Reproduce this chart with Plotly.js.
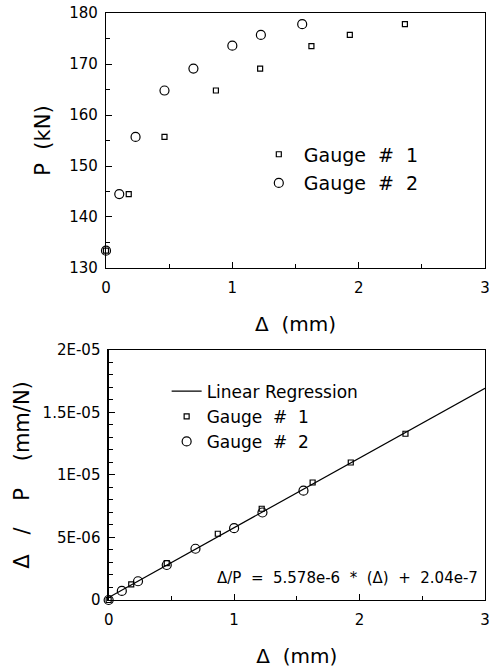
<!DOCTYPE html>
<html><head><meta charset="utf-8">
<script src="https://cdn.plot.ly/plotly-3.0.1.min.js"></script>
<style>html,body{margin:0;padding:0;background:#fff}#plot{width:490px;height:670px}</style>
</head><body><div id="plot"></div>
<script>
// Top panel: load P (kN) vs deflection Δ (mm)
const g1Delta = [0, 0.18, 0.463, 0.87, 1.22, 1.626, 1.93, 2.366];
const g1P     = [133.4, 144.5, 155.7, 164.8, 169.1, 173.5, 175.7, 177.8];
const g2Delta = [0, 0.105, 0.234, 0.463, 0.692, 1.0, 1.226, 1.553];
const g2P     = [133.4, 144.5, 155.7, 164.8, 169.1, 173.6, 175.7, 177.8];
// Bottom panel: compliance Δ/P (mm/N) vs Δ (mm)
const g1Comp  = [0, 1.25e-6, 2.95e-6, 5.3e-6, 7.3e-6, 9.4e-6, 1.1e-5, 1.33e-5];
const g2Comp  = [0, 7.3e-7, 1.5e-6, 2.8e-6, 4.1e-6, 5.75e-6, 7.0e-6, 8.75e-6];
const regDelta = [0, 3];
const regComp  = [2.04e-7, 1.6938e-5];
const compTickVals = [0, 5e-6, 1e-5, 1.5e-5, 2e-5];
const compTickText = ['0', '5E-06', '1E-05', '1.5E-05', '2E-05'];
const pTickVals = [130, 140, 150, 160, 170, 180];
const deltaTickVals = [0, 1, 2, 3];
const nb = '\u00A0';
const sp = n => nb.repeat(n);
const g1Name = 'Gauge' + sp(2) + '#' + sp(2) + '1';
const g2Name = 'Gauge' + sp(2) + '#' + sp(2) + '2';

const F = 'DejaVu Sans, Verdana, sans-serif';
const sq = {symbol: 'square-open', size: 5, color: '#000', line: {width: 1.2, color: '#000'}};
const ci = {symbol: 'circle-open', size: 9, color: '#000', line: {width: 1.2, color: '#000'}};

const traces = [
  {x: g1Delta, y: g1P, mode: 'markers', marker: sq, name: g1Name, xaxis: 'x', yaxis: 'y', legend: 'legend', legendgroup: 'a', cliponaxis: false},
  {x: g2Delta, y: g2P, mode: 'markers', marker: ci, name: g2Name, xaxis: 'x', yaxis: 'y', legend: 'legend', legendgroup: 'b', cliponaxis: false},
  {x: regDelta, y: regComp, mode: 'lines', line: {color: '#000', width: 1.2}, name: 'Linear' + nb + 'Regression', xaxis: 'x2', yaxis: 'y2', legend: 'legend2', legendgroup: 'c'},
  {x: g1Delta, y: g1Comp, mode: 'markers', marker: sq, name: g1Name, xaxis: 'x2', yaxis: 'y2', legend: 'legend2', legendgroup: 'd', cliponaxis: false},
  {x: g2Delta, y: g2Comp, mode: 'markers', marker: ci, name: g2Name, xaxis: 'x2', yaxis: 'y2', legend: 'legend2', legendgroup: 'e', cliponaxis: false}
];

const axBase = {
  showline: true, linecolor: '#000', linewidth: 1.2, mirror: true,
  ticks: 'inside', ticklen: 6, tickwidth: 1, tickcolor: '#000',
  showgrid: false, zeroline: false,
  tickfont: {family: F, size: 15, color: '#000'}
};

const layout = {
  width: 490, height: 670,
  margin: {l: 106, r: 5, t: 13, b: 70},
  paper_bgcolor: '#fff', plot_bgcolor: '#fff',
  font: {family: F, color: '#000'},
  xaxis: Object.assign({}, axBase, {
    domain: [0, 1], anchor: 'y', range: [0, 3], tickvals: deltaTickVals,
    minor: {dtick: 0.5, ticks: 'inside', ticklen: 4, tickcolor: '#000'},
    ticklabelstandoff: 6,
    title: {text: 'Δ' + sp(2) + '(mm)', font: {family: F, size: 20}, standoff: 20}
  }),
  yaxis: Object.assign({}, axBase, {
    domain: [0.5656, 1], anchor: 'x', range: [130, 180], tickvals: pTickVals,
    minor: {dtick: 5, ticks: 'inside', ticklen: 4, tickcolor: '#000'},
    ticklabelstandoff: 4,
    title: {text: 'P' + sp(2) + '(kN)', font: {family: F, size: 21}, standoff: 12}
  }),
  xaxis2: Object.assign({}, axBase, {
    domain: [0.007, 1], anchor: 'y2', range: [0, 3], tickvals: deltaTickVals,
    minor: {dtick: 0.5, ticks: 'inside', ticklen: 4, tickcolor: '#000'},
    ticklabelstandoff: 6,
    title: {text: 'Δ' + sp(2) + '(mm)', font: {family: F, size: 20}, standoff: 20}
  }),
  yaxis2: Object.assign({}, axBase, {
    domain: [0, 0.4259], anchor: 'x2', range: [0, 2e-5],
    tickvals: compTickVals, ticktext: compTickText,
    minor: {dtick: 1e-6, ticks: 'inside', ticklen: 4, tickcolor: '#000'},
    ticklabelstandoff: 4,
    title: {text: 'Δ' + sp(3) + '/' + sp(4) + 'P' + sp(4) + '(mm/N)', font: {family: F, size: 21}, standoff: 7}
  }),
  legend: {
    x: 0.39, y: 0.7915, xanchor: 'left', yanchor: 'top', bgcolor: 'rgba(0,0,0,0)',
    font: {family: F, size: 19, color: '#000'}, tracegroupgap: 1, itemwidth: 40
  },
  legend2: {
    x: 0.16, y: 0.3856, xanchor: 'left', yanchor: 'top', bgcolor: 'rgba(0,0,0,0)',
    font: {family: F, size: 17, color: '#000'}, tracegroupgap: 0, itemwidth: 30
  },
  annotations: [{
    text: 'Δ/P' + sp(2) + '=' + sp(2) + '5.578e-6' + sp(2) + '*' + sp(2) + '(Δ)' + sp(2) + '+' + sp(2) + '2.04e-7',
    xref: 'x2', yref: 'y2', x: 2.96, y: 1.75e-6, xanchor: 'right', yanchor: 'middle',
    showarrow: false, font: {family: F, size: 15, color: '#000'}
  }],
  showlegend: true
};

Plotly.newPlot('plot', traces, layout, {displayModeBar: false, staticPlot: true});
</script>
</body></html>
